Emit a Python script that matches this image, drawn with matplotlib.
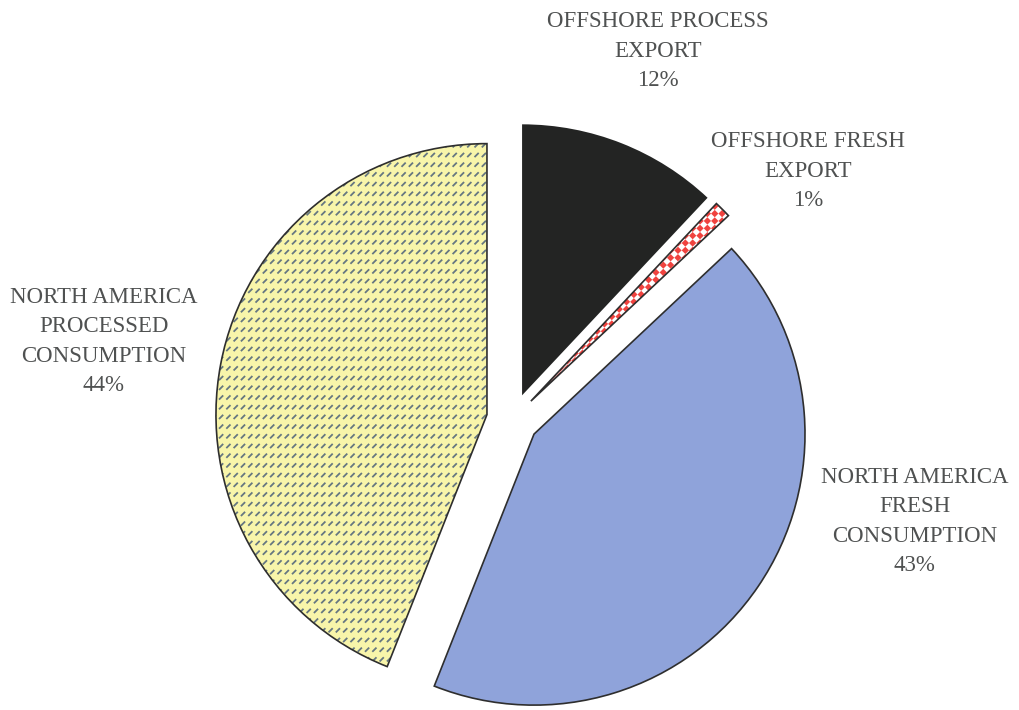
import numpy as np
import matplotlib.pyplot as plt
from matplotlib.collections import LineCollection, PolyCollection
from matplotlib.patches import PathPatch

# Data
categories = ["OFFSHORE PROCESS\nEXPORT", "OFFSHORE FRESH\nEXPORT",
              "NORTH AMERICA\nFRESH\nCONSUMPTION", "NORTH AMERICA\nPROCESSED\nCONSUMPTION"]
shares = [12, 1, 43, 44]
pct_text = ["12%", "1%", "43%", "44%"]

# Style / layout
face = ["#232423", "#ffffff", "#8fa3da", "#f8f5aa"]
edge = "#2e2e2e"
W, H = 1019, 710
cx, cy = 512.5, H - 419.5
rad = 271
gap = 26
lab_shift = [0, -5, 20, 0]      # degrees, label angle relative to wedge middle
lab_dist = [396, 386, 415, 416]  # pixels from pie centre

fig = plt.figure(figsize=(W / 100, H / 100), dpi=100)
ax = fig.add_axes([0, 0, 1, 1])

wedges, _ = ax.pie(shares, explode=[gap] * len(shares), startangle=90,
                   counterclock=False, radius=rad, center=(cx, cy), colors=face,
                   wedgeprops=dict(edgecolor="none", linewidth=0))
ax.set_xlim(0, W)
ax.set_ylim(0, H)
ax.set_aspect("equal")
ax.axis("off")

# yellow wedge: rows of short slanted dashes
xs = np.arange(0, W, 7.3)
ys = np.arange(0, H, 9.7)
segs = []
for y in ys:
    for x in xs:
        segs.append([(x, y), (x + 4.2, y + 4.2)])
dash = LineCollection(segs, colors="#667781", linewidths=1.3, zorder=3)
ax.add_collection(dash)
dash.set_clip_path(wedges[3])

# red wedge: checker aligned with the slice direction
w1 = wedges[1]
mid = np.deg2rad((w1.theta1 + w1.theta2) / 2)
u = np.array([np.cos(mid), np.sin(mid)])
v = np.array([-np.sin(mid), np.cos(mid)])
c0 = np.array(w1.center)
s = 5.2
polys = []
for i in range(-5, 70):
    for j in range(-6, 6):
        if (i + j) % 2:
            continue
        p = c0 + i * s * u + j * s * v
        polys.append([p, p + s * u, p + s * u + s * v, p + s * v])
chk = PolyCollection(polys, facecolors="#f0433f", edgecolors="none", zorder=3)
ax.add_collection(chk)
chk.set_clip_path(w1)

# outlines above the patterns (the dark slice has none)
for w in wedges[1:]:
    ax.add_patch(PathPatch(w.get_path(), fill=False, edgecolor=edge,
                           linewidth=1.2, zorder=4, joinstyle="miter"))

# labels
for k, w in enumerate(wedges):
    ang = np.deg2rad((w.theta1 + w.theta2) / 2 + lab_shift[k])
    x = cx + lab_dist[k] * np.cos(ang)
    y = cy + lab_dist[k] * np.sin(ang)
    ax.text(x, y, categories[k] + "\n" + pct_text[k], ha="center", va="center",
            multialignment="center", family="Liberation Serif", fontsize=16.5,
            color="#4f5151", linespacing=1.53)

fig.savefig("out.png", dpi=100)
